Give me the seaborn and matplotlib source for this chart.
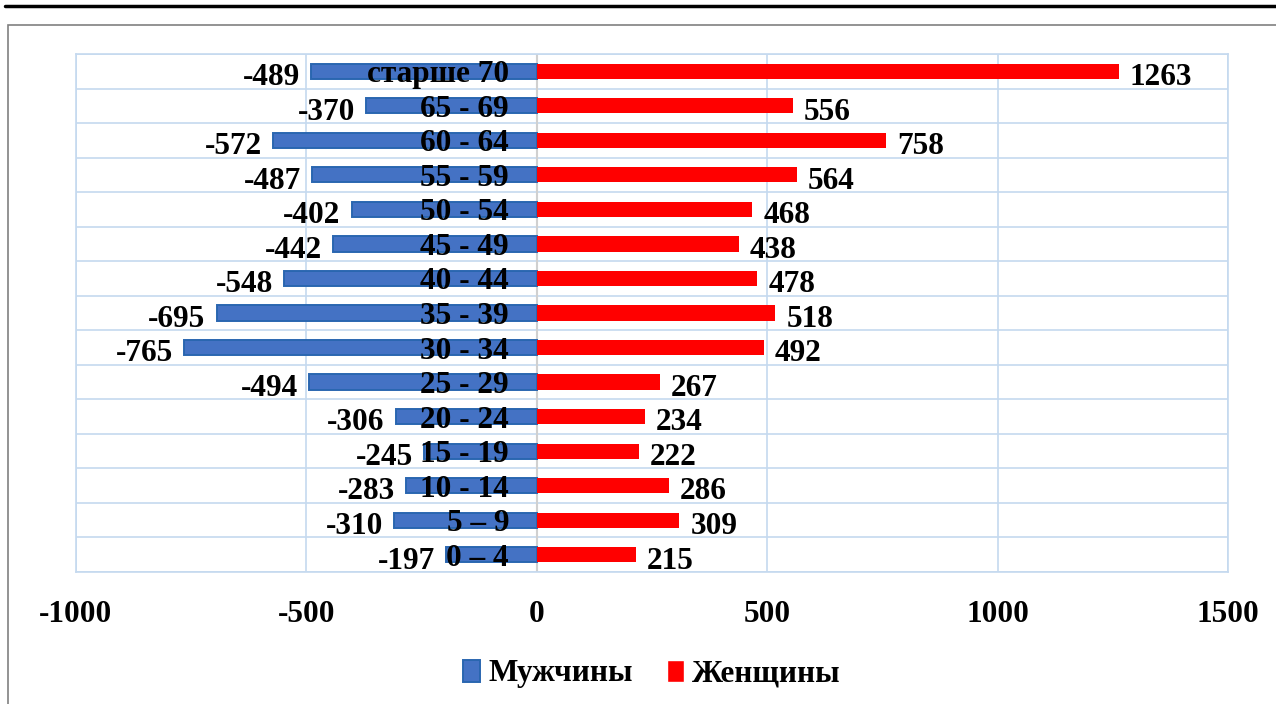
import numpy as np
import pandas as pd
import seaborn as sns
from matplotlib import pyplot as plt
from matplotlib.lines import Line2D
from matplotlib.patches import Patch, Rectangle

age_groups = ['старше 70', '65 - 69', '60 - 64', '55 - 59', '50 - 54',
              '45 - 49', '40 - 44', '35 - 39', '30 - 34', '25 - 29',
              '20 - 24', '15 - 19', '10 - 14', '5 – 9', '0 – 4']
men = [-489, -370, -572, -487, -402, -442, -548, -695, -765, -494,
       -306, -245, -283, -310, -197]
women = [1263, 556, 758, 564, 468, 438, 478, 518, 492, 267,
         234, 222, 286, 309, 215]
x_ticks = [-1000, -500, 0, 500, 1000, 1500]
series_names = ['Мужчины', 'Женщины']

BLUE = '#4472C4'
BLUE_EDGE = '#2A66B0'
RED = '#FF0000'
GRID = '#C5D9EF'
FS = 22.5

df = pd.DataFrame({
    'age': age_groups * 2,
    'value': men + women,
    'sex': [series_names[0]] * len(men) + [series_names[1]] * len(women),
})

sns.set_style('white')
plt.rcParams['font.family'] = ['Liberation Serif', 'DejaVu Serif']
plt.rcParams['font.weight'] = 'bold'
plt.rcParams['text.color'] = 'black'
plt.rcParams['xtick.color'] = 'black'

fig, ax = plt.subplots(figsize=(12.76, 7.04), dpi=100)
fig.subplots_adjust(left=76 / 1276, right=1228 / 1276,
                    bottom=132 / 704, top=650 / 704)

sns.barplot(data=df, x='value', y='age', hue='sex', order=age_groups,
            hue_order=series_names, palette={series_names[0]: BLUE, series_names[1]: RED},
            saturation=1, dodge=False, orient='h', width=0.44, legend=False, ax=ax)

for patch in ax.containers[0]:
    patch.set_edgecolor(BLUE_EDGE)
    patch.set_linewidth(1.4)
for patch in ax.containers[1]:
    patch.set_linewidth(0)

# value labels at the bar ends
for i, v in enumerate(men):
    ax.annotate(str(v), xy=(v, i), xytext=(-8, -2), textcoords='offset points',
                ha='right', va='center_baseline', fontsize=FS, fontweight='bold')
for i, v in enumerate(women):
    ax.annotate(str(v), xy=(v, i), xytext=(8, -2), textcoords='offset points',
                ha='left', va='center_baseline', fontsize=FS, fontweight='bold')

# age group labels just left of zero
for i, age in enumerate(age_groups):
    ax.annotate(age, xy=(0, i), xytext=(-20, 0), textcoords='offset points',
                ha='right', va='center_baseline', fontsize=FS, fontweight='bold', zorder=5)

ax.set_xlim(-1000, 1500)
ax.set_ylim(len(age_groups) - 0.5, -0.5)
ax.set_xticks(x_ticks)
ax.set_xticklabels([str(t) for t in x_ticks], fontsize=FS, fontweight='bold')
ax.set_yticks([])
ax.set_yticks(np.arange(-0.5, len(age_groups)), minor=True)
ax.tick_params(which='both', length=0)
ax.tick_params(axis='x', pad=20)
ax.set_xlabel('')
ax.set_ylabel('')

ax.set_axisbelow(True)
ax.grid(axis='x', which='major', color=GRID, lw=1.2)
ax.grid(axis='y', which='minor', color=GRID, lw=1.2)
ax.axvline(0, color='#D0D0D0', lw=1.5, zorder=0.8)
for sp in ax.spines.values():
    sp.set_color(GRID)
    sp.set_linewidth(1.2)

handles = [Patch(facecolor=BLUE, edgecolor=BLUE_EDGE, lw=1.4, label=series_names[0]),
           Patch(facecolor=RED, label=series_names[1])]
fig.legend(handles=handles, loc='center', bbox_to_anchor=(652 / 1276, 30 / 704),
           ncol=2, frameon=False, prop={'size': FS, 'weight': 'bold'},
           handlelength=0.55, handleheight=0.7, handletextpad=0.25,
           columnspacing=1.1)

# outer chart frame and the black rule above it
fig.patches.append(Rectangle((8 / 1276, -0.1), 1.2, 0.1 + 679 / 704,
                             transform=fig.transFigure, fill=False,
                             edgecolor='#808080', lw=1.2))
fig.lines.append(Line2D([5 / 1276, 1.0], [698 / 704, 698 / 704],
                        transform=fig.transFigure, color='black', lw=2.5))

fig.savefig('out.png', dpi=100)
